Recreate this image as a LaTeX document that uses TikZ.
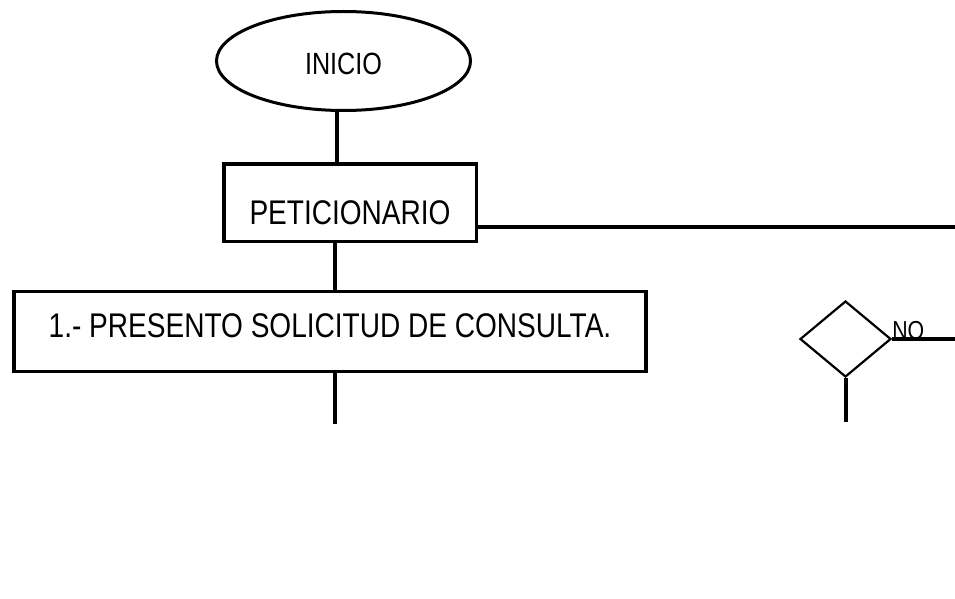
\documentclass[tikz,border=0pt]{standalone}
\usepackage{fontspec}
\setmainfont{Liberation Sans}[FakeStretch=0.82]
\usetikzlibrary{shapes.geometric}

\begin{document}
\begin{tikzpicture}[x=1pt,y=-1pt,%[pixel units]
	caja/.style={draw, rectangle, line width=3.5pt, inner sep=0pt, text depth=0pt},
	inicio/.style={draw, ellipse, line width=3pt, inner sep=0pt, text depth=0pt},
	decision/.style={draw, diamond, line width=2.2pt, inner sep=0pt},
	linea/.style={line width=3.2pt},
	gruesa/.style={line width=4pt}]
	\useasboundingbox (0,0) rectangle (955,599);
	% nodos
	\node[inicio, minimum width=254pt, minimum height=99pt, text height=28pt,
		font=\fontsize{30.7}{32}\selectfont] (ini) at (343.5,61) {INICIO};
	\node[caja, minimum width=252.5pt, minimum height=77.5pt, text height=43pt,
		font=\fontsize{34.2}{36}\selectfont] (pet) at (350,202.5) {PETICIONARIO};
	\node[caja, minimum width=632pt, minimum height=80pt, text height=11pt,
		font=\fontsize{34.2}{36}\selectfont] (sol) at (330,331.5) {1.- PRESENTO SOLICITUD DE CONSULTA.};
	\node[decision, minimum width=91pt, minimum height=76pt] (dec) at (845.5,339) {};
	\node[anchor=base west, inner sep=0pt, font=\fontsize{26}{28}\selectfont] (no) at (dec.east) {NO};
	% extremos libres
	\coordinate (der) at (955,227);
	\coordinate (noder) at (955,339);
	\coordinate (fin) at (335,424);
	\coordinate (decfin) at (845.5,422);
	% conectores
	\draw[linea] ([xshift=-6.5pt]ini.south) -- ([xshift=-13pt]pet.north);
	\draw[linea] ([xshift=-15pt]pet.south) -- ([xshift=5pt]sol.north);
	\draw[linea] (pet.east |- der) -- (der);
	\draw[linea] (sol.south -| fin) -- (fin);
	\draw[gruesa] (dec.east) -- (noder);
	\draw[gruesa] (dec.south) -- (decfin);
\end{tikzpicture}
\end{document}
